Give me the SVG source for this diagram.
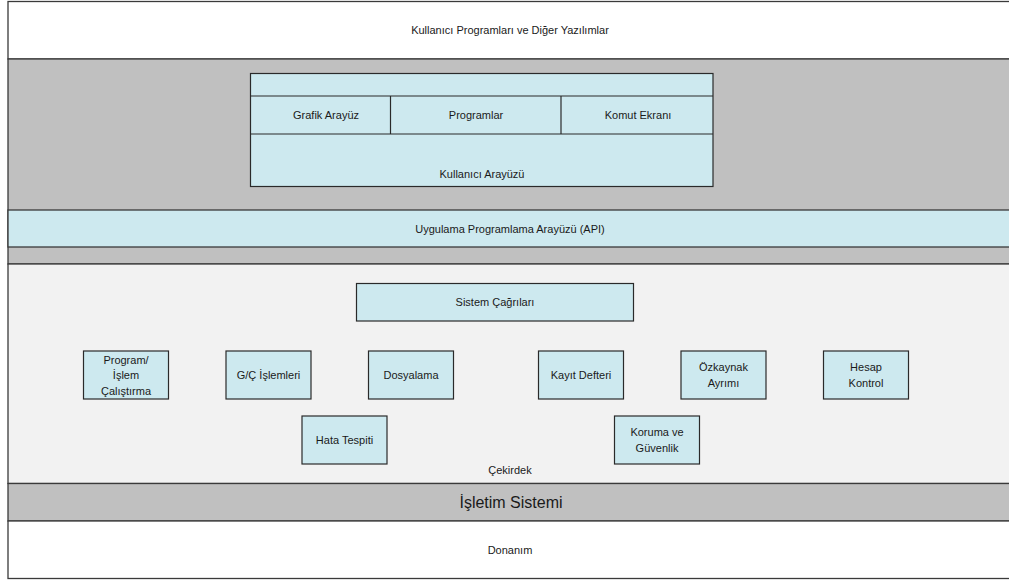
<svg xmlns="http://www.w3.org/2000/svg" width="1009" height="581" viewBox="0 0 1009 581">
<style>
text{font-family:"Liberation Sans",Arial,sans-serif;font-size:11px;fill:#1a1a1a;text-anchor:middle;dominant-baseline:central}
.band{stroke:#3a3a3a;stroke-width:1.3}
.box{fill:#cde9ef;stroke:#2a2a2a;stroke-width:1.2}
.big{font-size:16px}
</style>
<rect x="0" y="0" width="1009" height="581" fill="#ffffff"/>
<g id="layer-user-programs">
<rect class="band" x="8" y="1.5" width="1010" height="57.5" fill="#ffffff"/>
<text x="510" y="30">Kullanıcı Programları ve Diğer Yazılımlar</text>
</g>
<g id="layer-gray">
<rect class="band" x="8" y="59" width="1010" height="205" fill="#c0c0c0"/>
</g>
<g id="user-interface">
<rect class="box" x="250.5" y="73.5" width="462.5" height="113"/>
<line x1="250.5" y1="96" x2="713" y2="96" stroke="#2a2a2a" stroke-width="1.2"/>
<line x1="250.5" y1="134" x2="713" y2="134" stroke="#2a2a2a" stroke-width="1.2"/>
<line x1="390.5" y1="96" x2="390.5" y2="134" stroke="#2a2a2a" stroke-width="1.2"/>
<line x1="561" y1="96" x2="561" y2="134" stroke="#2a2a2a" stroke-width="1.2"/>
<text x="326" y="115">Grafik Arayüz</text>
<text x="476" y="115">Programlar</text>
<text x="638" y="115">Komut Ekranı</text>
<text x="482" y="174">Kullanıcı Arayüzü</text>
</g>
<g id="api">
<rect class="band" x="8" y="210" width="1010" height="37" fill="#cde9ef"/>
<text x="510" y="228.5">Uygulama Programlama Arayüzü (API)</text>
</g>
<g id="kernel">
<rect class="band" x="8" y="264" width="1010" height="219.5" fill="#f2f2f2"/>
<text x="510" y="470">Çekirdek</text>
</g>
<g id="system-calls">
<rect class="box" x="356.5" y="283.5" width="277" height="37.5"/>
<text x="495" y="302">Sistem Çağrıları</text>
</g>
<g id="program-exec">
<rect class="box" x="83.5" y="351" width="85" height="48"/>
<text x="126" y="359.5">Program/</text>
<text x="126" y="375">İşlem</text>
<text x="126" y="391">Çalıştırma</text>
</g>
<g id="io">
<rect class="box" x="226" y="351" width="85" height="48"/>
<text x="268.5" y="375">G/Ç İşlemleri</text>
</g>
<g id="filing">
<rect class="box" x="368.5" y="351" width="85" height="48"/>
<text x="411" y="375">Dosyalama</text>
</g>
<g id="logging">
<rect class="box" x="538.5" y="351" width="85" height="48"/>
<text x="581" y="375">Kayıt Defteri</text>
</g>
<g id="resource-alloc">
<rect class="box" x="681" y="351" width="85" height="48"/>
<text x="723.5" y="367">Özkaynak</text>
<text x="723.5" y="383">Ayrımı</text>
</g>
<g id="accounting">
<rect class="box" x="823.5" y="351" width="85" height="48"/>
<text x="866" y="367">Hesap</text>
<text x="866" y="383">Kontrol</text>
</g>
<g id="error-detection">
<rect class="box" x="302" y="416" width="85" height="48"/>
<text x="344.5" y="440">Hata Tespiti</text>
</g>
<g id="protection">
<rect class="box" x="614.5" y="416" width="85" height="48"/>
<text x="657" y="432">Koruma ve</text>
<text x="657" y="448">Güvenlik</text>
</g>
<g id="os">
<rect class="band" x="8" y="483.5" width="1010" height="37.5" fill="#c0c0c0"/>
<text class="big" x="511" y="502">İşletim Sistemi</text>
</g>
<g id="hardware">
<rect class="band" x="8" y="521" width="1010" height="57.5" fill="#ffffff"/>
<text x="510" y="550">Donanım</text>
</g>
<g id="connectors"></g>
</svg>
